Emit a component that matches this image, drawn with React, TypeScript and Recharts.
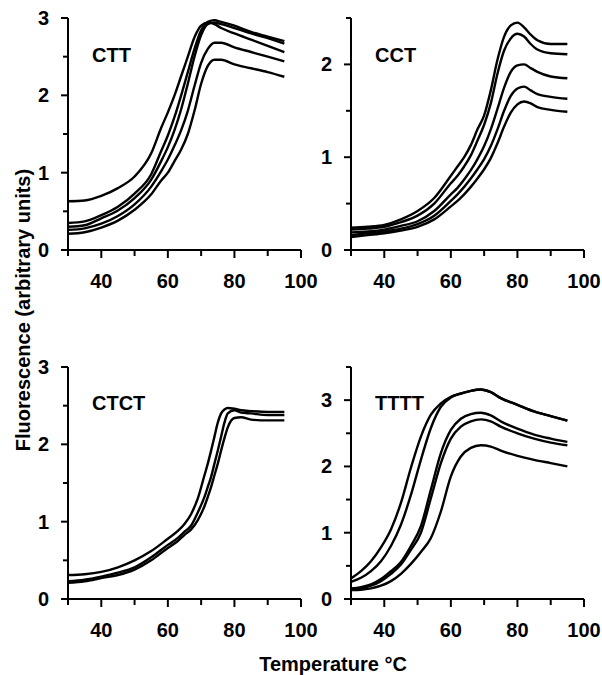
import { LineChart, Line, XAxis, YAxis } from 'recharts';

// temperatures (°C) and fluorescence readings per panel
const cttTemps = [30, 35, 40, 45, 50, 55, 58, 60, 62, 64, 66, 68, 70, 72, 74, 76, 80, 85, 90, 95];
const cttA = [0.63, 0.64, 0.7, 0.8, 0.95, 1.25, 1.58, 1.78, 2.0, 2.25, 2.5, 2.75, 2.9, 2.94, 2.92, 2.87, 2.8, 2.72, 2.64, 2.56];
const cttB = [0.35, 0.37, 0.45, 0.56, 0.73, 0.98, 1.28, 1.48, 1.72, 2.0, 2.3, 2.6, 2.84, 2.95, 2.97, 2.95, 2.9, 2.82, 2.76, 2.7];
const cttC = [0.3, 0.32, 0.41, 0.51, 0.67, 0.91, 1.15, 1.33, 1.55, 1.82, 2.15, 2.5, 2.78, 2.92, 2.94, 2.92, 2.87, 2.8, 2.74, 2.67];
const cttD = [0.26, 0.28, 0.34, 0.44, 0.59, 0.82, 1.02, 1.17, 1.35, 1.55, 1.8, 2.12, 2.42, 2.6, 2.68, 2.68, 2.62, 2.56, 2.5, 2.44];
const cttE = [0.21, 0.23, 0.29, 0.38, 0.52, 0.72, 0.9, 1.0, 1.15, 1.3, 1.5, 1.8, 2.15, 2.38, 2.46, 2.46, 2.4, 2.35, 2.3, 2.24];

const cctTemps = [30, 35, 40, 45, 50, 55, 60, 62, 64, 66, 68, 70, 72, 74, 76, 78, 80, 82, 84, 86, 90, 95];
const cctA = [0.24, 0.25, 0.27, 0.33, 0.42, 0.56, 0.8, 0.9, 1.0, 1.13, 1.3, 1.45, 1.72, 2.05, 2.3, 2.42, 2.45, 2.4, 2.32, 2.26, 2.22, 2.22];
const cctB = [0.22, 0.23, 0.25, 0.3, 0.37, 0.5, 0.72, 0.8, 0.9, 1.02, 1.18, 1.35, 1.58, 1.9, 2.15, 2.28, 2.33, 2.3, 2.22, 2.16, 2.12, 2.11];
const cctC = [0.19, 0.2, 0.22, 0.26, 0.31, 0.42, 0.6, 0.67, 0.76, 0.86, 0.98, 1.12, 1.3, 1.52, 1.75, 1.92, 1.99, 2.0, 1.96, 1.92, 1.87, 1.85];
const cctD = [0.16, 0.18, 0.2, 0.23, 0.28, 0.37, 0.53, 0.6, 0.68, 0.77, 0.87, 0.98, 1.12, 1.3, 1.5, 1.66, 1.74, 1.76, 1.72, 1.68, 1.65, 1.63];
const cctE = [0.14, 0.16, 0.18, 0.21, 0.25, 0.33, 0.47, 0.53, 0.6, 0.68, 0.77, 0.87, 0.99, 1.15, 1.33, 1.48, 1.57, 1.6, 1.58, 1.54, 1.51, 1.49];

const ctctTemps = [30, 35, 40, 45, 50, 55, 60, 63, 65, 67, 69, 71, 72, 73, 74, 75, 76, 77, 78, 80, 82, 85, 90, 95];
const ctctA = [0.31, 0.32, 0.35, 0.41, 0.5, 0.62, 0.78, 0.88, 0.97, 1.1, 1.3, 1.6, 1.75, 1.92, 2.1, 2.28, 2.4, 2.45, 2.47, 2.46, 2.44, 2.43, 2.42, 2.42];
const ctctB = [0.23, 0.25, 0.29, 0.34, 0.41, 0.54, 0.7, 0.79, 0.87, 0.95, 1.12, 1.32, 1.45, 1.58, 1.75, 1.92, 2.1, 2.28, 2.4, 2.44, 2.41, 2.4, 2.38, 2.38];
const ctctC = [0.21, 0.23, 0.27, 0.31, 0.38, 0.5, 0.66, 0.75, 0.83, 0.9, 1.02, 1.2, 1.32, 1.45, 1.6, 1.75, 1.92, 2.08, 2.22, 2.34, 2.35, 2.32, 2.31, 2.31];

const ttttTemps = [30, 33, 36, 39, 42, 45, 48, 51, 54, 57, 60, 63, 66, 69, 72, 75, 80, 85, 90, 95];
const ttttA = [0.31, 0.42, 0.57, 0.78, 1.05, 1.45, 1.98, 2.45, 2.78, 2.95, 3.05, 3.1, 3.14, 3.16, 3.12, 3.03, 2.93, 2.83, 2.76, 2.69];
const ttttB = [0.26, 0.32, 0.42, 0.57, 0.8, 1.12, 1.57, 2.1, 2.58, 2.9, 3.04, 3.1, 3.14, 3.16, 3.12, 3.03, 2.93, 2.83, 2.76, 2.69];
const ttttC = [0.16, 0.18, 0.22, 0.3, 0.42, 0.56, 0.8, 1.1, 1.65, 2.2, 2.55, 2.72, 2.79, 2.81, 2.77, 2.68, 2.57, 2.48, 2.42, 2.37];
const ttttD = [0.145, 0.16, 0.2, 0.27, 0.38, 0.52, 0.74, 1.0, 1.52, 2.05, 2.42, 2.6, 2.68, 2.71, 2.68, 2.6, 2.5, 2.42, 2.36, 2.32];
const ttttE = [0.135, 0.14, 0.16, 0.2, 0.27, 0.38, 0.53, 0.71, 0.92, 1.32, 1.85, 2.15, 2.28, 2.32, 2.3, 2.24, 2.16, 2.1, 2.05, 2.0];

const xTicks = [30, 40, 50, 60, 70, 80, 90, 100];

const FONT = '"Liberation Sans", Arial, sans-serif';

const buildRows = (temps: number[], series: number[][]) =>
  temps.map((t, i) => {
    const row: Record<string, number> = { t };
    series.forEach((s, k) => {
      row['s' + k] = s[i];
    });
    return row;
  });

const XTick = (props: any) => {
  const { x, y, payload } = props;
  const major = payload.value % 20 === 0;
  return (
    <g>
      <line x1={x} y1={y} x2={x} y2={y + (major ? 8 : 6)} stroke="#000" strokeWidth={2} />
      {major && (
        <text x={x} y={y + 38} textAnchor="middle" fontSize={20} fontWeight="bold" fontFamily={FONT} fill="#000">
          {payload.value}
        </text>
      )}
    </g>
  );
};

const YTick = (props: any) => {
  const { x, y, payload } = props;
  const major = Number.isInteger(payload.value);
  return (
    <g>
      <line x1={x} y1={y} x2={x - (major ? 7 : 5)} y2={y} stroke="#000" strokeWidth={2} />
      {major && (
        <text x={x - 19} y={y + 7} textAnchor="end" fontSize={20} fontWeight="bold" fontFamily={FONT} fill="#000">
          {payload.value}
        </text>
      )}
    </g>
  );
};

interface PanelProps {
  left: number;
  top: number;
  yAxisWidth: number;
  yMax: number;
  yTicks: number[];
  rows: Record<string, number>[];
  count: number;
}

function Panel({ left, top, yAxisWidth, yMax, yTicks, rows, count }: PanelProps) {
  // room on the right so the "100" label is not clipped
  const width = yAxisWidth + 233 + 25;
  return (
    <div style={{ position: 'absolute', left, top }}>
      <LineChart width={width} height={300} data={rows} margin={{ top: 18, right: 25, left: 0, bottom: 0 }}>
        <XAxis
          dataKey="t"
          type="number"
          domain={[30, 100]}
          ticks={xTicks}
          interval={0}
          height={50}
          tickSize={0}
          tickMargin={0}
          tickLine={false}
          axisLine={{ stroke: '#000', strokeWidth: 2 }}
          tick={<XTick />}
        />
        <YAxis
          type="number"
          domain={[0, yMax]}
          ticks={yTicks}
          interval={0}
          width={yAxisWidth}
          tickSize={0}
          tickMargin={0}
          tickLine={false}
          axisLine={{ stroke: '#000', strokeWidth: 2 }}
          tick={<YTick />}
        />
        {Array.from({ length: count }, (_, k) => (
          <Line
            key={k}
            type="monotone"
            dataKey={'s' + k}
            stroke="#000"
            strokeWidth={2.4}
            dot={false}
            isAnimationActive={false}
          />
        ))}
      </LineChart>
    </div>
  );
}

export default function App() {
  const cttRows = buildRows(cttTemps, [cttA, cttB, cttC, cttD, cttE]);
  const cctRows = buildRows(cctTemps, [cctA, cctB, cctC, cctD, cctE]);
  const ctctRows = buildRows(ctctTemps, [ctctA, ctctB, ctctC]);
  const ttttRows = buildRows(ttttTemps, [ttttA, ttttB, ttttC, ttttD, ttttE]);

  return (
    <div style={{ position: 'absolute', left: 0, top: 0, width: 602, height: 675, background: '#fff', fontFamily: FONT, overflow: 'hidden' }}>
      <Panel left={0} top={0} yAxisWidth={68} yMax={3} yTicks={[0, 0.5, 1, 1.5, 2, 2.5, 3]} rows={cttRows} count={5} />
      <Panel left={290} top={0} yAxisWidth={61} yMax={2.5} yTicks={[0, 0.5, 1, 1.5, 2, 2.5]} rows={cctRows} count={5} />
      <Panel left={0} top={349} yAxisWidth={68} yMax={3} yTicks={[0, 0.5, 1, 1.5, 2, 2.5, 3]} rows={ctctRows} count={3} />
      <Panel
        left={290}
        top={349}
        yAxisWidth={61}
        yMax={3.5}
        yTicks={[0, 0.5, 1, 1.5, 2, 2.5, 3, 3.5]}
        rows={ttttRows}
        count={5}
      />
      <svg width={602} height={675} style={{ position: 'absolute', left: 0, top: 0, pointerEvents: 'none' }}>
        <g fontFamily={FONT} fontWeight="bold" fill="#000">
          <text x={92} y={62} fontSize={20}>CTT</text>
          <text x={375} y={62} fontSize={20}>CCT</text>
          <text x={92} y={410} fontSize={20}>CTCT</text>
          <text x={375} y={410} fontSize={20}>TTTT</text>
          <text x={333} y={671} fontSize={20} textAnchor="middle">Temperature °C</text>
          <text x={30} y={310} fontSize={20} textAnchor="middle" transform="rotate(-90 30 310)">
            Fluorescence (arbitrary units)
          </text>
        </g>
      </svg>
    </div>
  );
}
